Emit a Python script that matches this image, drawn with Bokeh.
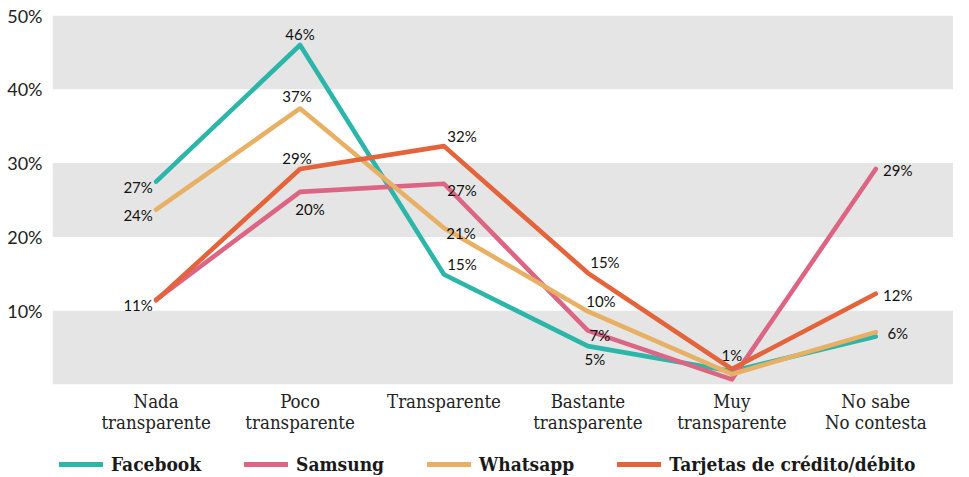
from bokeh.plotting import figure
from bokeh.layouts import column
from bokeh.models import (ColumnDataSource, Range1d, BoxAnnotation, FixedTicker,
                          Legend, LegendItem)
from bokeh.core.properties import value
from bokeh.embed import file_html
from bokeh.resources import INLINE

# ---------------- data ----------------
categories = ["Nada\ntransparente", "Poco\ntransparente", "Transparente",
              "Bastante\ntransparente", "Muy\ntransparente", "No sabe\nNo contesta"]
series_names = ["Facebook", "Samsung", "Whatsapp", "Tarjetas de crédito/débito"]

facebook = [27.5, 46.0, 14.9, 5.2, 1.8, 6.5]
samsung = [11.5, 26.1, 27.2, 7.3, 0.7, 29.2]
whatsapp = [23.7, 37.4, 21.2, 9.9, 1.4, 7.1]
tarjetas = [11.4, 29.2, 32.3, 15.1, 2.1, 12.3]

facebook_labels = ["27%", "46%", "15%", "5%", "", ""]
samsung_labels = ["", "20%", "27%", "7%", "", "29%"]
whatsapp_labels = ["24%", "37%", "21%", "10%", "", "6%"]
tarjetas_labels = ["11%", "29%", "32%", "15%", "1%", "12%"]

y_ticks = [10, 20, 30, 40, 50]
bands = [(0, 10), (20, 30), (40, 50)]

# ---------------- styles ----------------
colors = ["#2CB5A9", "#DC6584", "#E8B065", "#E4633A"]
label_offsets = {
    "Facebook": [(-18, 5), (0, -11), (18, -11), (7, 13), None, None],
    "Samsung": [None, (10, 17), (18, 6), (12, 4), None, (22, 1)],
    "Whatsapp": [(-18, 5), (-3, -12), (17, 5), (13, -10), None, (22, 1)],
    "Tarjetas de crédito/débito": [(-18, 5), (-3, -11), (18, -10), (17, -11), (0, -14), (22, 1)],
}

p = figure(frame_width=901, frame_height=369, output_backend="svg", toolbar_location=None,
           x_range=Range1d(-0.72, 5.54), y_range=Range1d(0, 50),
           min_border_top=15, min_border_right=0, min_border_left=52, min_border_bottom=56)
p.outline_line_color = None
p.xgrid.visible = False
p.ygrid.visible = False
p.background_fill_color = "white"

for lo, hi in bands:
    p.add_layout(BoxAnnotation(bottom=lo, top=hi, fill_color="#E4E5E4", fill_alpha=1,
                               line_alpha=0, level="underlay"))

xs = list(range(len(categories)))
all_values = [facebook, samsung, whatsapp, tarjetas]
all_labels = [facebook_labels, samsung_labels, whatsapp_labels, tarjetas_labels]

for name, vals, col in zip(series_names, all_values, colors):
    src = ColumnDataSource(dict(x=xs, y=vals))
    p.line("x", "y", source=src, line_color=col, line_width=4.6,
           line_cap="round", line_join="round")

lx, ly, lt, ldx, ldy = [], [], [], [], []
for name, vals, labs in zip(series_names, all_values, all_labels):
    for i, (v, t) in enumerate(zip(vals, labs)):
        if t:
            dx, dy = label_offsets[name][i]
            lx.append(i); ly.append(v); lt.append(t); ldx.append(dx); ldy.append(dy)
lsrc = ColumnDataSource(dict(x=lx, y=ly, text=lt, dx=ldx, dy=ldy))
p.text("x", "y", text="text", source=lsrc, x_offset="dx", y_offset="dy",
       text_align="center", text_baseline="middle", text_font=value("Lato"),
       text_font_size="15px", text_color="#111111")

# axes
p.yaxis.ticker = FixedTicker(ticks=y_ticks)
p.yaxis.major_label_overrides = {t: f"{t}%" for t in y_ticks}
p.yaxis.axis_line_color = None
p.yaxis.major_tick_line_color = None
p.yaxis.minor_tick_line_color = None
p.yaxis.major_label_text_font = "Lato"
p.yaxis.major_label_text_font_size = "18px"
p.yaxis.major_label_text_color = "#222222"
p.yaxis.major_label_standoff = 4

p.xaxis.ticker = FixedTicker(ticks=xs)
p.xaxis.major_label_overrides = {i: c for i, c in enumerate(categories)}
p.xaxis.axis_line_color = None
p.xaxis.major_tick_line_color = None
p.xaxis.minor_tick_line_color = None
p.xaxis.major_label_text_font = "DejaVu Serif Condensed"
p.xaxis.major_label_text_font_size = "18.5px"
p.xaxis.major_label_text_color = "#222222"
p.xaxis.major_label_text_line_height = 1.0
p.xaxis.major_label_standoff = 0

# ---------------- legend (separate strip) ----------------
lg = figure(width=953, height=36, output_backend="svg", toolbar_location=None,
            x_axis_type=None, y_axis_type=None,
            x_range=Range1d(100, 101), y_range=Range1d(100, 101),
            min_border_top=0, min_border_bottom=0, min_border_left=0, min_border_right=0)
lg.outline_line_color = None
lg.xgrid.visible = False
lg.ygrid.visible = False
items = []
for name, vals, col in zip(series_names, all_values, colors):
    r = lg.line(x=xs, y=vals, line_color=col, line_width=5, line_cap="round")
    items.append(LegendItem(label=name, renderers=[r]))
legend = Legend(items=items, orientation="horizontal", location=(7, 1),
                glyph_width=44, glyph_height=18, label_standoff=8, spacing=43,
                padding=0, margin=0, border_line_alpha=0, background_fill_alpha=0,
                label_text_font="DejaVu Serif Condensed", label_text_font_style="bold",
                label_text_font_size="19px", label_text_color="#1a1a1a")
lg.add_layout(legend, "center")

layout = column(p, lg, spacing=0)
open("out.html", "w").write(file_html(layout, INLINE))
